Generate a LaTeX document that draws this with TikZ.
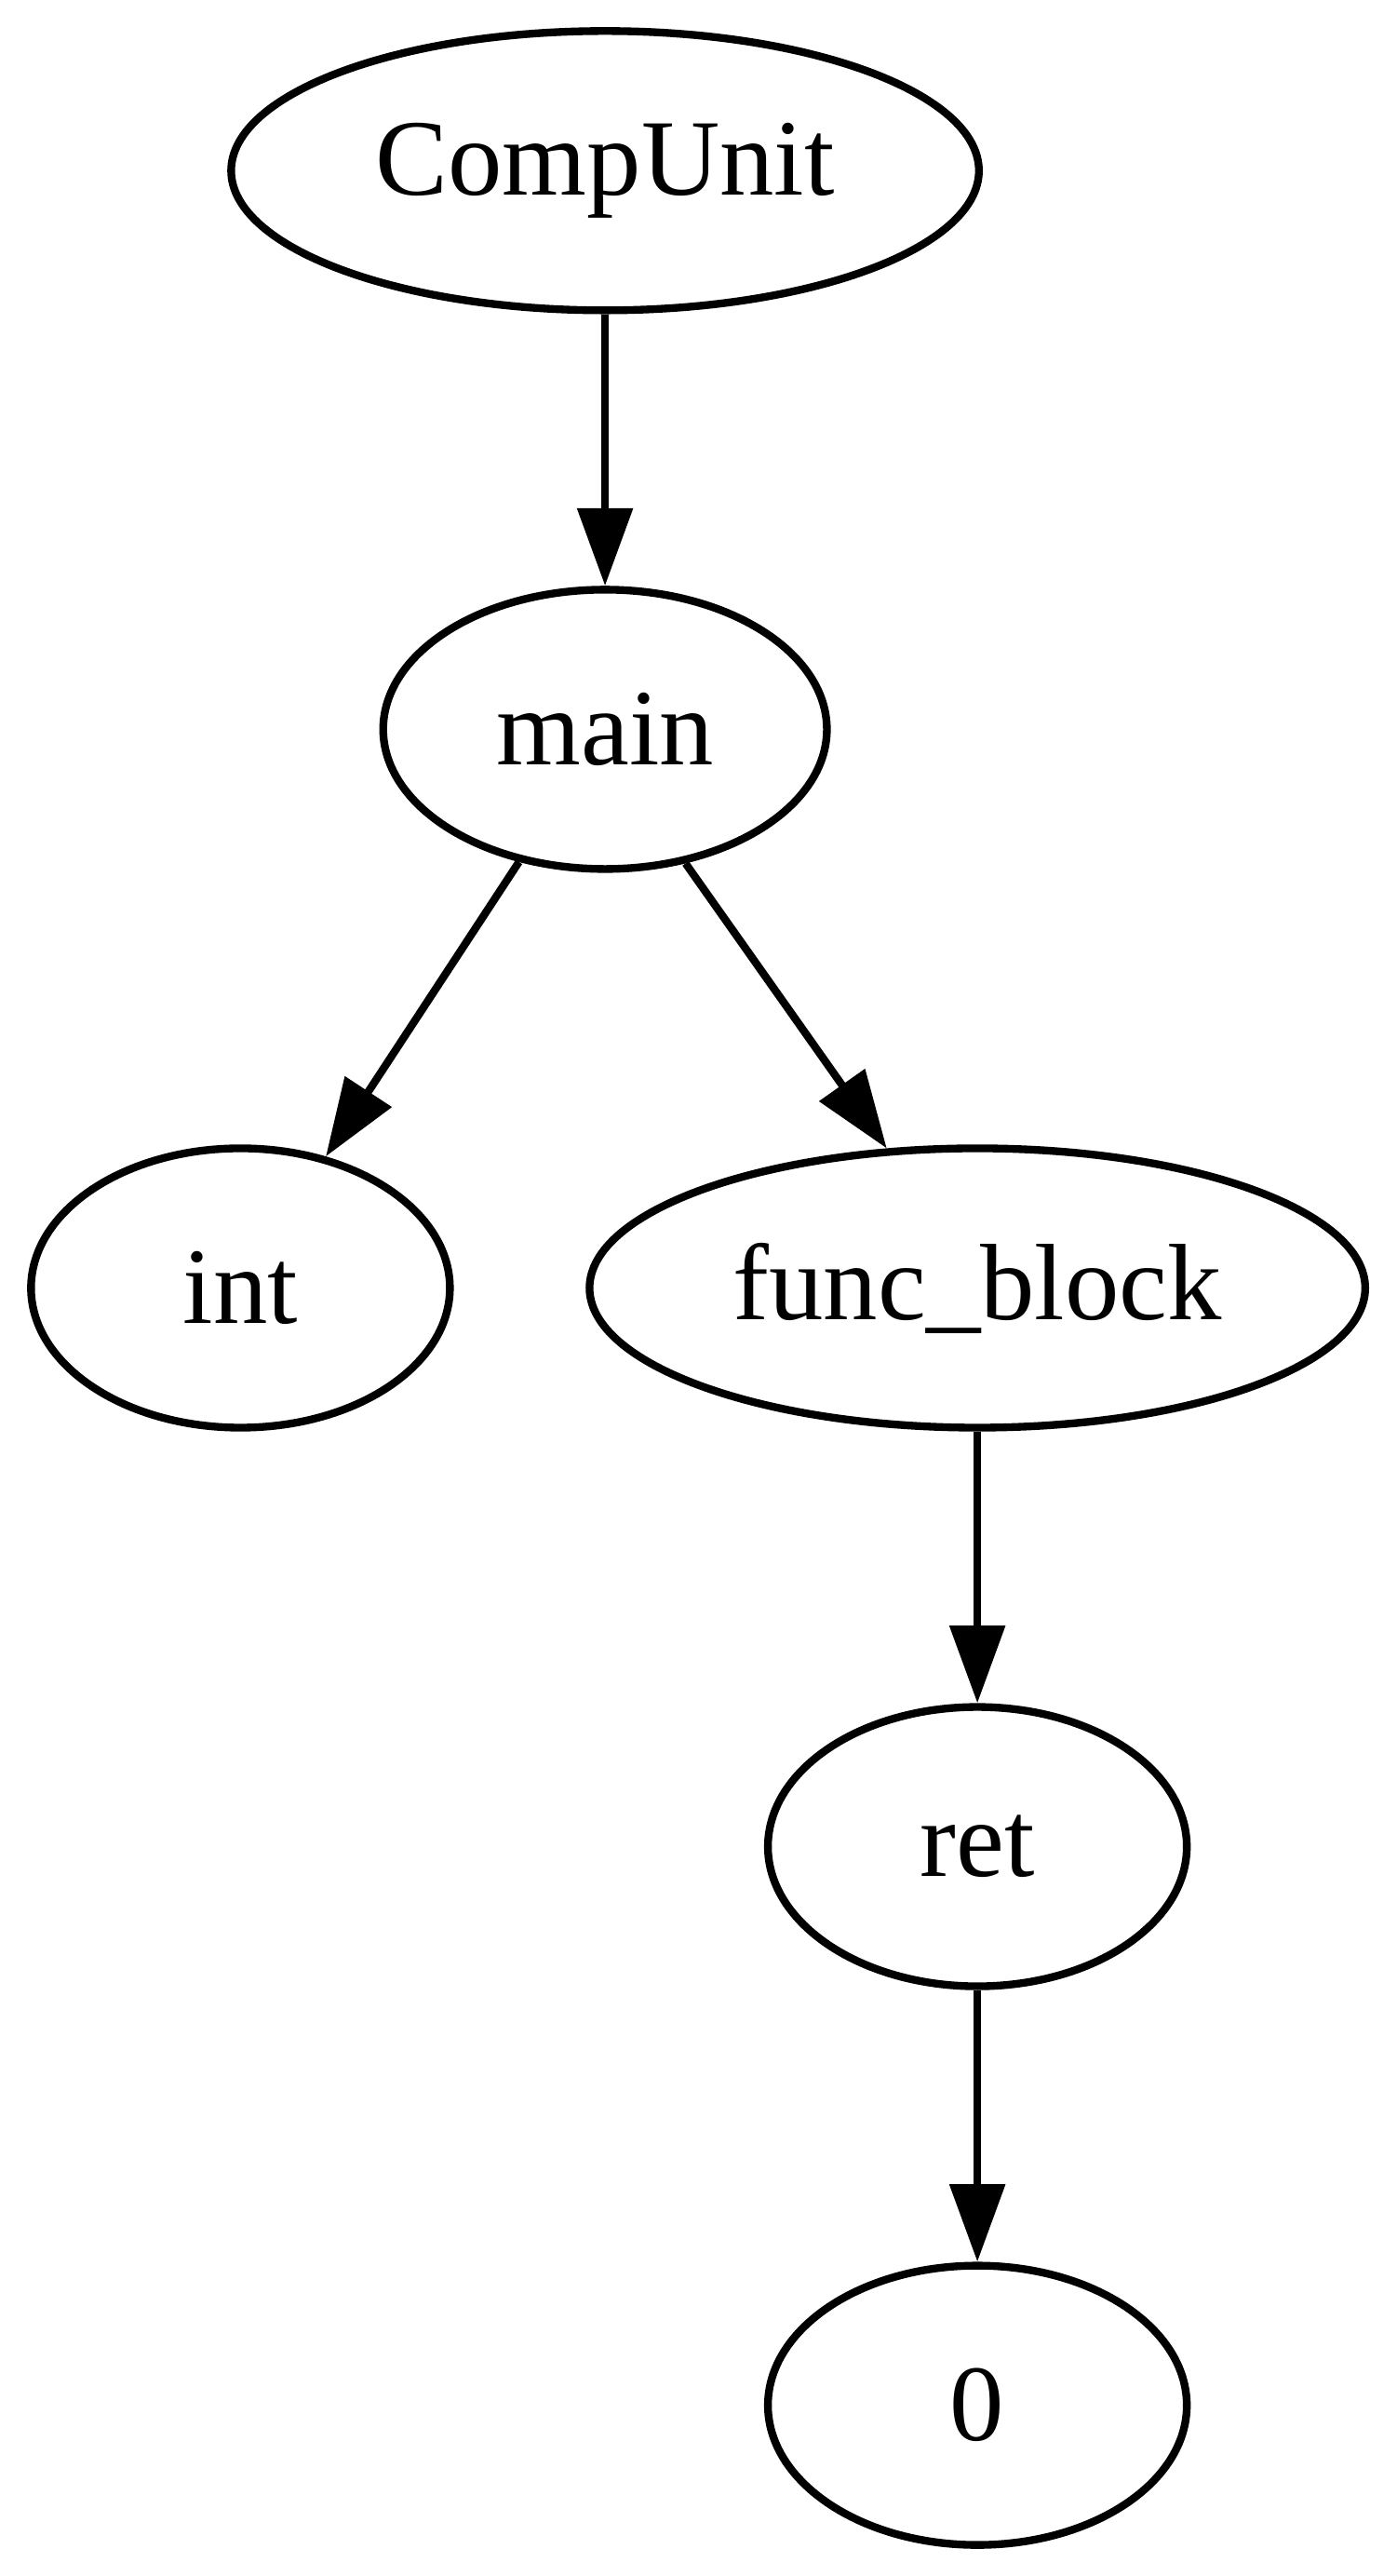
\documentclass[tikz,border=0pt]{standalone}
\usepackage{fontspec}
\setmainfont{Liberation Serif}
\usetikzlibrary{shapes.geometric,arrows.meta}
\tikzset{
  gvnode/.style={ellipse, draw, line width=1pt, inner sep=0pt, minimum height=36pt, font=\fontsize{14}{16}\selectfont},
  gvedge/.style={line width=1pt, -{Triangle[length=10pt,width=7pt]}}
}
\begin{document}
\begin{tikzpicture}[x=1pt,y=1pt]
\useasboundingbox (0,0) rectangle (180,332);
\node[gvnode, minimum width=96.4pt] (cu) at (78,310) {CompUnit};
\node[gvnode, minimum width=57.2pt] (main) at (78,238) {main};
\node[gvnode, minimum width=54pt] (int) at (31,166) {int};
\node[gvnode, minimum width=100pt] (fb) at (126,166) {func\_block};
\node[gvnode, minimum width=54pt] (ret) at (126,94) {ret};
\node[gvnode, minimum width=54pt] (zero) at (126,22) {0};
\draw[gvedge] (cu.south) -- (main.north);
\draw[gvedge] (main.237.5) -- (int.57.7);
\draw[gvedge] (main.301.5) -- (fb.123.6);
\draw[gvedge] (fb.south) -- (ret.north);
\draw[gvedge] (ret.south) -- (zero.north);
\end{tikzpicture}
\end{document}
